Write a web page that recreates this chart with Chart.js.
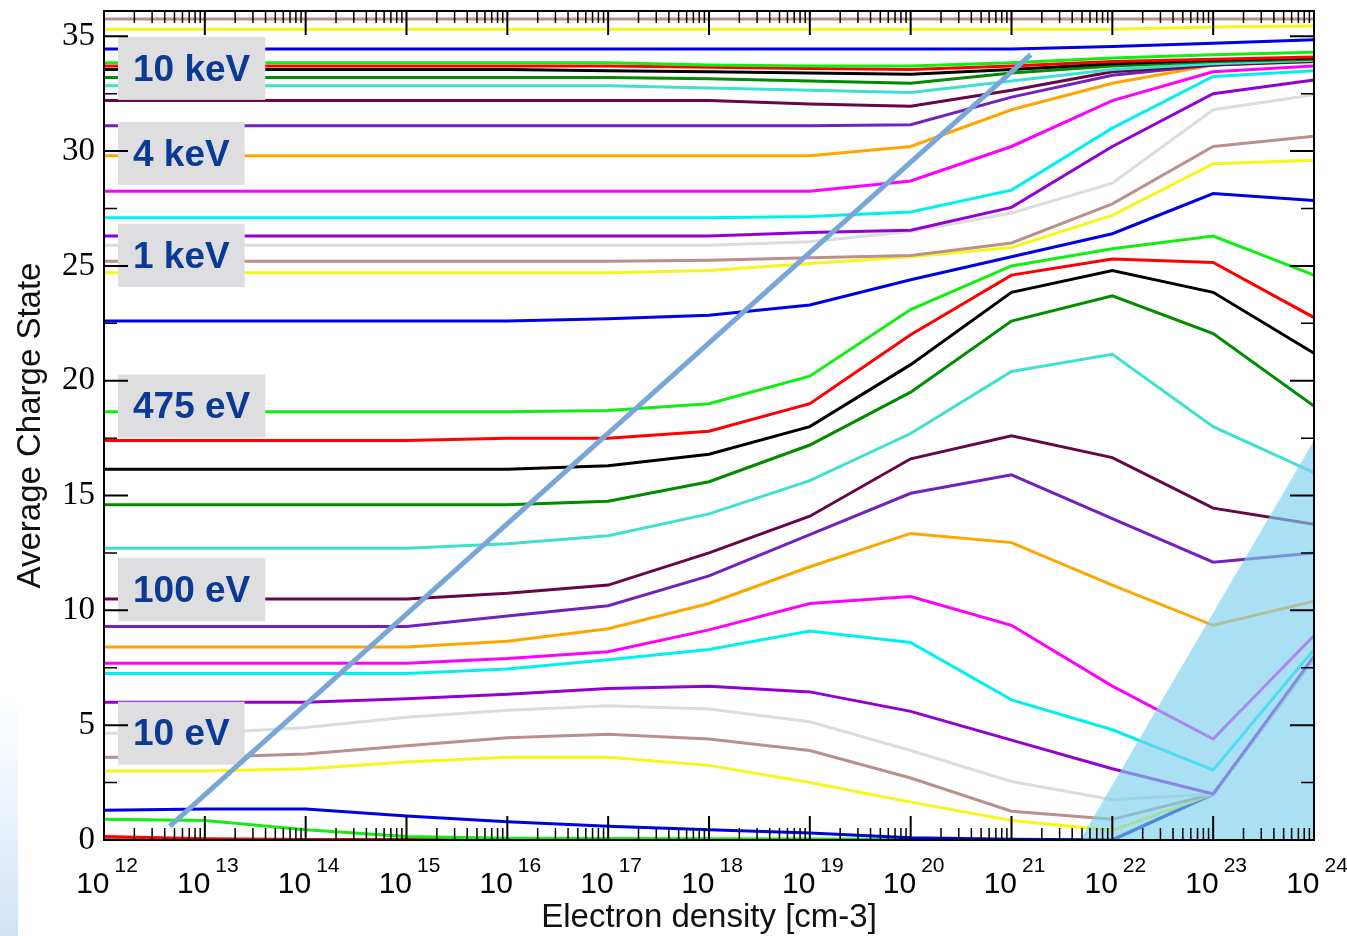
<!DOCTYPE html>
<html>
<head>
<meta charset="utf-8">
<script src="https://cdn.jsdelivr.net/npm/chart.js@4.4.1/dist/chart.umd.min.js"></script>
<style>
  html, body { margin: 0; padding: 0; background: #ffffff; }
  canvas { display: block; }
</style>
</head>
<body>
<canvas id="myChart" width="1347" height="936"></canvas>
<script>
// electron densities [cm-3], one point per decade
const densities = [1e12, 1e13, 1e14, 1e15, 1e16, 1e17, 1e18, 1e19, 1e20, 1e21, 1e22, 1e23, 1e24];
const xTickExponents = ['12', '13', '14', '15', '16', '17', '18', '19', '20', '21', '22', '23', '24'];
const yTickValues = [0, 5, 10, 15, 20, 25, 30, 35];

// average charge state per temperature, lowest temperature first
const cs01 = [0, 0, 0, 0, 0, 0, 0, 0, 0, 0, 0, 2.0, 7.9];
const cs02 = [0.15, 0.05, 0.02, 0.02, 0.02, 0.02, 0.02, 0.02, 0.02, 0.02, 0.02, 2.0, 7.9];
const cs03 = [0.9, 0.85, 0.45, 0.15, 0.08, 0.06, 0.05, 0.04, 0.03, 0.02, 0.02, 2.0, 7.9];
const cs04 = [1.3, 1.35, 1.35, 1.05, 0.8, 0.6, 0.45, 0.3, 0.1, 0.03, 0, 2.0, 7.9];
const cs05 = [3.0, 3.0, 3.1, 3.4, 3.6, 3.6, 3.25, 2.5, 1.65, 0.85, 0.42, 2.0, 7.9];
const cs06 = [3.6, 3.6, 3.75, 4.1, 4.45, 4.6, 4.4, 3.9, 2.7, 1.25, 0.9, 2.0, 7.9];
const cs07 = [4.65, 4.65, 4.9, 5.35, 5.65, 5.85, 5.7, 5.15, 3.9, 2.55, 1.75, 2.0, 7.9];
const cs08 = [6.0, 6.0, 6.0, 6.15, 6.35, 6.6, 6.7, 6.45, 5.6, 4.35, 3.1, 2.0, 8.0];
const cs09 = [7.25, 7.25, 7.25, 7.25, 7.45, 7.85, 8.3, 9.1, 8.6, 6.1, 4.8, 3.05, 8.3];
const cs10 = [7.7, 7.7, 7.7, 7.7, 7.9, 8.2, 9.15, 10.3, 10.6, 9.35, 6.7, 4.4, 8.9];
const cs11 = [8.4, 8.4, 8.4, 8.4, 8.65, 9.2, 10.3, 11.9, 13.35, 12.95, 11.1, 9.35, 10.4];
const cs12 = [9.3, 9.3, 9.3, 9.3, 9.75, 10.2, 11.5, 13.3, 15.1, 15.9, 14.0, 12.1, 12.5];
const cs13 = [10.5, 10.5, 10.5, 10.5, 10.75, 11.1, 12.5, 14.1, 16.6, 17.6, 16.65, 14.45, 13.75];
const cs14 = [12.7, 12.7, 12.7, 12.7, 12.9, 13.25, 14.2, 15.65, 17.7, 20.4, 21.15, 18.0, 16.0];
const cs15 = [14.6, 14.6, 14.6, 14.6, 14.6, 14.75, 15.6, 17.2, 19.5, 22.6, 23.7, 22.05, 18.9];
const cs16 = [16.15, 16.15, 16.15, 16.15, 16.15, 16.3, 16.8, 18.0, 20.7, 23.85, 24.8, 23.85, 21.2];
const cs17 = [17.4, 17.4, 17.4, 17.4, 17.5, 17.5, 17.8, 19.0, 22.0, 24.6, 25.3, 25.15, 22.75];
const cs18 = [18.65, 18.65, 18.65, 18.65, 18.65, 18.7, 19.0, 20.2, 23.1, 25.0, 25.75, 26.3, 24.6];
const cs19 = [22.6, 22.6, 22.6, 22.6, 22.6, 22.7, 22.85, 23.3, 24.4, 25.4, 26.4, 28.15, 27.85];
const cs20 = [24.7, 24.7, 24.7, 24.7, 24.7, 24.7, 24.8, 25.1, 25.4, 25.8, 27.2, 29.45, 29.6];
const cs21 = [25.2, 25.2, 25.2, 25.2, 25.2, 25.2, 25.25, 25.35, 25.45, 26.0, 27.7, 30.2, 30.65];
const cs22 = [25.9, 25.9, 25.9, 25.9, 25.9, 25.9, 25.9, 26.05, 26.5, 27.3, 28.6, 31.8, 32.45];
const cs23 = [26.3, 26.3, 26.3, 26.3, 26.3, 26.3, 26.3, 26.45, 26.55, 27.55, 30.2, 32.5, 33.1];
const cs24 = [27.1, 27.1, 27.1, 27.1, 27.1, 27.1, 27.1, 27.15, 27.35, 28.3, 31.0, 33.25, 33.5];
const cs25 = [28.25, 28.25, 28.25, 28.25, 28.25, 28.25, 28.25, 28.25, 28.7, 30.2, 32.2, 33.45, 33.7];
const cs26 = [29.8, 29.8, 29.8, 29.8, 29.8, 29.8, 29.8, 29.8, 30.2, 31.8, 32.95, 33.75, 33.9];
const cs27 = [31.1, 31.1, 31.1, 31.1, 31.1, 31.1, 31.1, 31.1, 31.15, 32.35, 33.3, 33.75, 33.95];
const cs28 = [32.2, 32.2, 32.2, 32.2, 32.2, 32.2, 32.2, 32.05, 31.95, 32.65, 33.45, 33.75, 33.9];
const cs29 = [32.85, 32.85, 32.85, 32.85, 32.85, 32.85, 32.75, 32.65, 32.55, 33.05, 33.55, 33.8, 33.95];
const cs30 = [33.2, 33.2, 33.2, 33.2, 33.2, 33.2, 33.15, 33.05, 32.95, 33.4, 33.7, 33.9, 34.0];
const cs31 = [33.55, 33.55, 33.55, 33.55, 33.55, 33.5, 33.45, 33.4, 33.35, 33.55, 33.8, 33.95, 34.05];
const cs32 = [33.7, 33.7, 33.7, 33.7, 33.7, 33.7, 33.65, 33.6, 33.55, 33.7, 33.9, 34.0, 34.1];
const cs33 = [33.85, 33.85, 33.85, 33.85, 33.85, 33.85, 33.75, 33.7, 33.7, 33.85, 34.05, 34.2, 34.3];
const cs34 = [34.45, 34.45, 34.45, 34.45, 34.45, 34.45, 34.45, 34.45, 34.45, 34.45, 34.55, 34.7, 34.85];
const cs35 = [35.3, 35.3, 35.3, 35.3, 35.3, 35.3, 35.3, 35.3, 35.3, 35.3, 35.3, 35.4, 35.45];
const cs36 = [35.75, 35.75, 35.75, 35.75, 35.75, 35.75, 35.75, 35.75, 35.75, 35.75, 35.75, 35.75, 35.75];

const allSeries = [cs01, cs02, cs03, cs04, cs05, cs06, cs07, cs08, cs09, cs10, cs11, cs12,
    cs13, cs14, cs15, cs16, cs17, cs18, cs19, cs20, cs21, cs22, cs23, cs24,
    cs25, cs26, cs27, cs28, cs29, cs30, cs31, cs32, cs33, cs34, cs35, cs36];

// grace colour cycle
const palette = ['#000000', '#ff0000', '#11ee11', '#0000e6', '#f6f61a', '#bc8f8f', '#dcdcdc',
    '#9400d3', '#00f0f0', '#ff00ff', '#ffa500', '#7221bc', '#670748', '#40e0d0', '#008b00'];

// temperature labels and the charge level they sit at
const tempLabels = ['10 keV', '4 keV', '1 keV', '475 eV', '100 eV', '10 eV'];
const tempLabelLevels = [33.6, 29.9, 25.45, 18.9, 10.9, 4.65];

// diagonal guide line and shaded corner
const guideX = [4.5e12, 1.55e21];
const guideY = [0.6, 34.2];
const shadeX = [4.8e21, 1e24];
const shadeY = [0, 17.4];

function toPoints(xs, ys) {
    return xs.map((x, i) => ({ x: x, y: ys[i] }));
}

const datasets = allSeries.map((vals, i) => ({
    data: toPoints(densities, vals),
    borderColor: palette[i % palette.length],
    borderWidth: 3,
    pointRadius: 0,
    fill: false,
    tension: 0,
    order: -i
}));

datasets.push({
    data: toPoints(shadeX, shadeY),
    borderWidth: 0,
    borderColor: 'rgba(0,0,0,0)',
    backgroundColor: 'rgba(125, 208, 238, 0.65)',
    pointRadius: 0,
    fill: 'origin',
    order: -999
});

const guideIndex = datasets.length;
datasets.push({
    data: toPoints(guideX, guideY),
    borderColor: '#78a6d8',
    borderWidth: 5,
    pointRadius: 0,
    fill: false,
    order: -1000
});

const decorations = {
    id: 'decorations',
    beforeDraw(chart) {
        const ctx = chart.ctx;
        ctx.save();
        ctx.fillStyle = '#ffffff';
        ctx.fillRect(0, 0, chart.width, chart.height);
        const g = ctx.createLinearGradient(0, 690, 0, chart.height);
        g.addColorStop(0, 'rgba(215, 230, 247, 0)');
        g.addColorStop(1, 'rgba(205, 224, 245, 0.9)');
        ctx.fillStyle = g;
        ctx.fillRect(0, 690, 18, chart.height - 690);
        ctx.restore();
    },
    beforeDatasetDraw(chart, args) {
        if (args.index !== guideIndex) return;
        const ctx = chart.ctx;
        const ys = chart.scales.y;
        ctx.save();
        ctx.font = 'bold 37px "Liberation Sans", Arial, sans-serif';
        ctx.textAlign = 'center';
        ctx.textBaseline = 'middle';
        tempLabels.forEach((t, i) => {
            const w = ctx.measureText(t).width;
            const cy = ys.getPixelForValue(tempLabelLevels[i]);
            const bx = chart.chartArea.left + 14;
            const bw = w + 30;
            const bh = 63;
            ctx.fillStyle = '#dedee1';
            ctx.fillRect(bx, cy - bh / 2, bw, bh);
            ctx.fillStyle = '#0b3a94';
            ctx.fillText(t, bx + bw / 2, cy + 2);
        });
        ctx.restore();
    },
    afterDraw(chart) {
        const ctx = chart.ctx;
        const xs = chart.scales.x;
        const ys = chart.scales.y;
        const { left, right, top, bottom } = chart.chartArea;
        ctx.save();
        ctx.strokeStyle = '#000000';

        // x ticks, top and bottom, pointing inward
        for (let e = 12; e <= 24; e++) {
            const px = xs.getPixelForValue(Math.pow(10, e));
            ctx.lineWidth = 2;
            ctx.beginPath();
            ctx.moveTo(px, bottom); ctx.lineTo(px, bottom - 24);
            ctx.moveTo(px, top); ctx.lineTo(px, top + 24);
            ctx.stroke();
            if (e === 24) continue;
            ctx.lineWidth = 1.5;
            ctx.beginPath();
            for (let m = 2; m <= 9; m++) {
                const mx = xs.getPixelForValue(m * Math.pow(10, e));
                ctx.moveTo(mx, bottom); ctx.lineTo(mx, bottom - 12);
                ctx.moveTo(mx, top); ctx.lineTo(mx, top + 12);
            }
            ctx.stroke();
        }

        // y ticks, left and right
        for (let v = 0; v <= 35; v += 2.5) {
            const py = ys.getPixelForValue(v);
            const major = v % 5 === 0;
            const len = major ? 24 : 13;
            ctx.lineWidth = major ? 2 : 1.5;
            ctx.beginPath();
            ctx.moveTo(left, py); ctx.lineTo(left + len, py);
            ctx.moveTo(right, py); ctx.lineTo(right - len, py);
            ctx.stroke();
        }

        // frame
        ctx.lineWidth = 2;
        ctx.strokeRect(left, top, right - left, bottom - top);

        // x tick labels 10^n
        ctx.fillStyle = '#000000';
        ctx.textBaseline = 'alphabetic';
        ctx.textAlign = 'left';
        xTickExponents.forEach((ex) => {
            const px = xs.getPixelForValue(Math.pow(10, Number(ex)));
            ctx.font = '30px "Liberation Sans", Arial, sans-serif';
            const wBase = ctx.measureText('10').width;
            ctx.font = '21px "Liberation Sans", Arial, sans-serif';
            const wExp = ctx.measureText(ex).width;
            const x0 = px - (wBase + 5 + wExp) / 2 + 3;
            ctx.font = '30px "Liberation Sans", Arial, sans-serif';
            ctx.fillText('10', x0, bottom + 53);
            ctx.font = '21px "Liberation Sans", Arial, sans-serif';
            ctx.fillText(ex, x0 + wBase + 5, bottom + 32);
        });
        ctx.restore();
    }
};

const ctx = document.getElementById('myChart').getContext('2d');
new Chart(ctx, {
    type: 'line',
    data: { datasets: datasets },
    options: {
        responsive: false,
        animation: false,
        layout: { padding: { top: 11, right: 33, left: 0, bottom: 0 } },
        plugins: {
            legend: { display: false },
            tooltip: { enabled: false },
            filler: { propagate: false }
        },
        scales: {
            x: {
                type: 'logarithmic',
                min: 1e12,
                max: 1e24,
                grid: { display: false, drawTicks: false },
                border: { display: false },
                ticks: { display: false },
                title: {
                    display: true,
                    text: 'Electron density [cm-3]',
                    color: '#111111',
                    font: { family: '"Liberation Sans", Arial, sans-serif', size: 33, lineHeight: 1 },
                    padding: { top: 0, bottom: 2 }
                },
                afterFit: (scale) => {
                    scale.height = 96;
                    scale.paddingLeft = 0;
                    scale.paddingRight = 0;
                }
            },
            y: {
                min: 0,
                max: 36.1,
                grid: { display: false, drawTicks: false },
                border: { display: false },
                ticks: {
                    stepSize: 5,
                    includeBounds: false,
                    padding: 9,
                    color: '#000000',
                    font: { family: '"Liberation Serif", "Times New Roman", serif', size: 33 },
                    callback: (v) => (yTickValues.includes(v) ? String(v) : '')
                },
                title: {
                    display: true,
                    text: 'Average Charge State',
                    color: '#111111',
                    font: { family: '"Liberation Sans", Arial, sans-serif', size: 33, lineHeight: 1 },
                    padding: { top: 14, bottom: 0 }
                },
                afterFit: (scale) => {
                    scale.width = 104;
                    scale.paddingTop = 0;
                    scale.paddingBottom = 0;
                }
            }
        }
    },
    plugins: [decorations]
});
</script>
</body>
</html>
